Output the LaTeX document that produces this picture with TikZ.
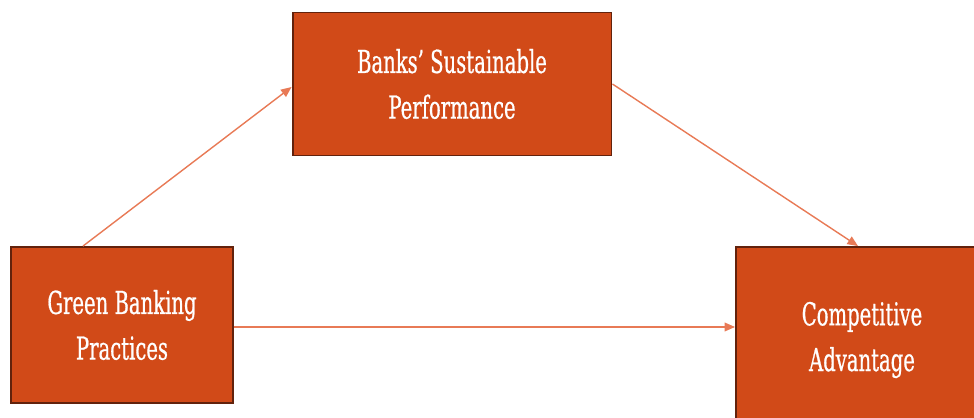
\documentclass[tikz,border=0pt]{standalone}
\usepackage{fontspec}
\setmainfont{DejaVu Serif}[FakeStretch=0.62,FakeBold=0.6]
\usetikzlibrary{arrows.meta}

\definecolor{boxfill}{RGB}{209,74,24}
\definecolor{boxedge}{RGB}{98,34,12}
\definecolor{linkcol}{RGB}{232,122,86}

\begin{document}
\begin{tikzpicture}[x=0.02cm,y=-0.02cm,
    block/.style={draw=boxedge, line width=1.1pt, fill=boxfill, text=white,
      align=center, inner sep=0pt, font=\fontsize{18}{26}\selectfont},
    link/.style={draw=linkcol, line width=0.8pt, -{Triangle[length=6pt,width=5pt]}}]
    \clip (0,0) rectangle (974,418);
    % the three constructs
    \node[block, minimum width=6.38cm, minimum height=2.86cm] (perf) at (452,84) {Banks’ Sustainable\\Performance};
    \node[block, minimum width=4.44cm, minimum height=3.12cm] (green) at (122,325) {Green Banking\\Practices};
    \node[block, minimum width=5.04cm, minimum height=3.72cm] (comp) at (862,340) {Competitive\\Advantage};
    % paths
    \draw[link] ([xshift=-0.78cm]green.north) -- ([yshift=-0.06cm]perf.west);
    \draw[link] (perf.east) -- ([xshift=-0.08cm]comp.north);
    \draw[link] (green.east |- 0,327) -- (comp.west |- 0,327);
\end{tikzpicture}
\end{document}
